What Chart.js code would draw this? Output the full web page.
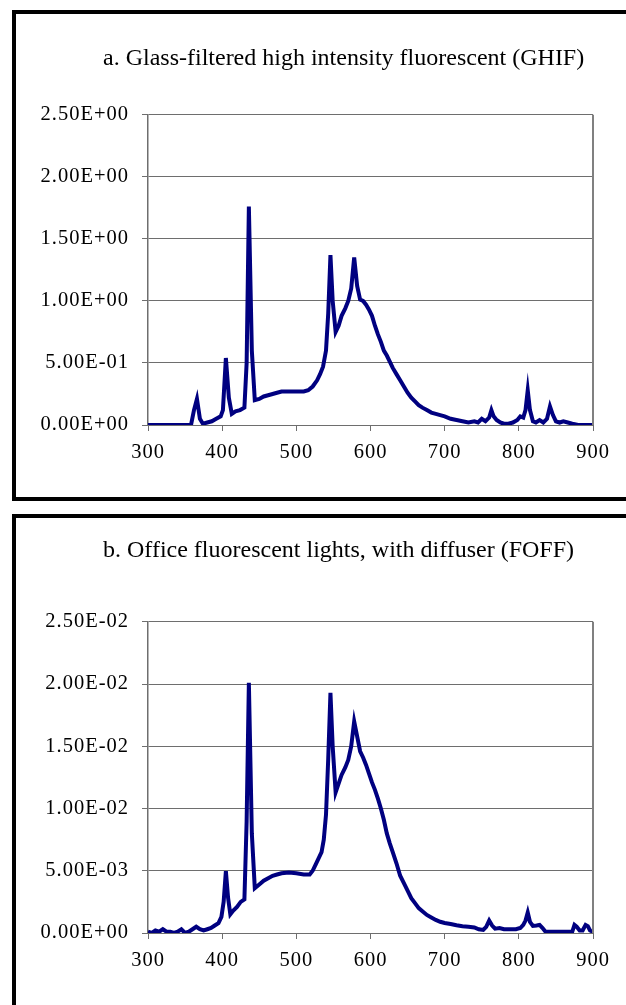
<!DOCTYPE html>
<html>
<head>
<meta charset="utf-8">
<script src="https://cdn.jsdelivr.net/npm/chart.js@4.4.1/dist/chart.umd.min.js"></script>
<style>
  html, body { margin: 0; padding: 0; background: #fff; width: 626px; height: 1005px; overflow: hidden; }
  .panel { position: absolute; left: 12px; width: 700px; border-left: 4px solid #000; border-top: 4px solid #000; }
  #pa { top: 10px; height: 483px; border-bottom: 4px solid #000; }
  #pb { top: 514px; height: 600px; }
  .box { position: absolute; left: 16px; width: 610px; }
  #boxA { top: 14px; height: 483px; }
  #boxB { top: 518px; height: 487px; }
</style>
</head>
<body>
<div class="panel" id="pa"></div>
<div class="panel" id="pb"></div>
<div class="box" id="boxA"><canvas id="chartA"></canvas></div>
<div class="box" id="boxB"><canvas id="chartB"></canvas></div>
<script>
// a. Glass-filtered high intensity fluorescent (GHIF)
const wavelengthsA = [300, 330, 358, 362, 366, 370, 374, 380, 386, 392, 398, 401, 405, 409, 413, 418, 424, 430, 433, 436,
  440, 444, 450, 456, 462, 468, 474, 480, 490, 500, 510, 516, 522, 528, 532, 536, 540, 543, 546, 549,
  553, 557, 561, 566, 570, 574, 578, 582, 586, 590, 594, 598, 602, 606, 610, 614, 618, 622, 626, 630,
  635, 640, 645, 650, 655, 660, 665, 670, 676, 682, 688, 694, 700, 708, 716, 724, 732, 740, 745, 750,
  755, 760, 763, 766, 770, 775, 780, 786, 792, 798, 802, 806, 809, 812, 815, 819, 823, 828, 833, 838,
  842, 846, 850, 855, 860, 866, 872, 880, 890, 900];
const ghif = [0, 0, 0, 0.12, 0.21, 0.05, 0.01, 0.02, 0.03, 0.05, 0.07, 0.12, 0.54, 0.22, 0.09, 0.11, 0.12, 0.14, 0.5, 1.76,
  0.6, 0.2, 0.21, 0.23, 0.24, 0.25, 0.26, 0.27, 0.27, 0.27, 0.27, 0.28, 0.31, 0.36, 0.41, 0.47, 0.6, 0.9, 1.37, 1.0,
  0.75, 0.8, 0.88, 0.94, 1.0, 1.1, 1.35, 1.12, 1.01, 1.0, 0.97, 0.93, 0.88, 0.8, 0.73, 0.67, 0.6, 0.56, 0.51, 0.46,
  0.41, 0.36, 0.31, 0.26, 0.22, 0.19, 0.16, 0.14, 0.12, 0.1, 0.09, 0.08, 0.07, 0.05, 0.04, 0.03, 0.02, 0.03, 0.02, 0.05,
  0.03, 0.06, 0.12, 0.07, 0.04, 0.02, 0.01, 0.01, 0.02, 0.04, 0.07, 0.06, 0.12, 0.28, 0.12, 0.03, 0.02, 0.04, 0.02, 0.05,
  0.15, 0.08, 0.03, 0.02, 0.03, 0.02, 0.01, 0, 0, 0];

// b. Office fluorescent lights, with diffuser (FOFF)
const wavelengthsB = [300, 305, 310, 315, 320, 325, 330, 335, 340, 345, 350, 355, 360, 365, 370, 375, 380, 385, 390, 395,
  399, 402, 405, 408, 411, 415, 420, 425, 430, 433, 436, 440, 444, 450, 456, 462, 468, 474, 480, 490,
  500, 510, 518, 522, 526, 530, 534, 537, 540, 543, 546, 549, 553, 557, 561, 566, 570, 574, 578, 582,
  586, 590, 594, 598, 602, 606, 610, 614, 618, 622, 626, 630, 635, 640, 645, 650, 655, 660, 665, 670,
  676, 682, 688, 694, 700, 708, 716, 724, 732, 740, 746, 752, 756, 760, 764, 768, 774, 780, 788, 796,
  802, 806, 809, 812, 815, 819, 824, 828, 832, 836, 842, 850, 858, 866, 872, 875, 878, 882, 886, 890,
  893, 896, 900];
const foff = [1.0e-4, 0, 2.0e-4, 1.0e-4, 3.0e-4, 1.0e-4, 1.0e-4, 0, 1.0e-4, 3.0e-4, 0, 1.0e-4, 3.0e-4, 5.0e-4, 3.0e-4, 2.0e-4, 3.0e-4, 4.0e-4, 6.0e-4, 8.0e-4,
  1.3e-3, 2.5e-3, 4.97e-3, 2.8e-3, 1.5e-3, 1.8e-3, 2.1e-3, 2.5e-3, 2.7e-3, 9.0e-3, 2.01e-2, 8.0e-3, 3.6e-3, 3.9e-3, 4.2e-3, 4.4e-3, 4.6e-3, 4.7e-3, 4.8e-3, 4.85e-3,
  4.8e-3, 4.7e-3, 4.7e-3, 5.0e-3, 5.5e-3, 6.0e-3, 6.5e-3, 7.5e-3, 9.5e-3, 1.4e-2, 1.93e-2, 1.5e-2, 1.13e-2, 1.2e-2, 1.27e-2, 1.33e-2, 1.39e-2, 1.5e-2, 1.7e-2, 1.58e-2,
  1.46e-2, 1.41e-2, 1.35e-2, 1.28e-2, 1.21e-2, 1.15e-2, 1.08e-2, 1.0e-2, 9.1e-3, 8.0e-3, 7.2e-3, 6.5e-3, 5.6e-3, 4.6e-3, 4.0e-3, 3.4e-3, 2.8e-3, 2.4e-3, 2.0e-3, 1.75e-3,
  1.45e-3, 1.25e-3, 1.05e-3, 9.0e-4, 8.0e-4, 7.2e-4, 6.2e-4, 5.5e-4, 5.0e-4, 4.5e-4, 3.0e-4, 2.5e-4, 5.0e-4, 1.0e-3, 6.0e-4, 3.5e-4, 4.0e-4, 3.0e-4, 3.0e-4, 3.0e-4,
  4.0e-4, 6.5e-4, 1.0e-3, 1.65e-3, 9.0e-4, 5.7e-4, 6.0e-4, 6.5e-4, 4.0e-4, 1.0e-4, 1.0e-4, 1.0e-4, 1.0e-4, 1.0e-4, 1.0e-4, 6.5e-4, 5.0e-4, 2.0e-4, 2.0e-4, 6.5e-4,
  5.5e-4, 2.0e-4, 1.0e-4];

const xTicks = [300, 400, 500, 600, 700, 800, 900];
const titleA = 'a. Glass-filtered high intensity fluorescent (GHIF)';
const titleB = 'b. Office fluorescent lights, with diffuser (FOFF)';

const serif = '"Liberation Serif", "Times New Roman", serif';
const gridGray = '#6e6e6e';
const tickSpacing = '1px';

// Excel style 2.50E+00 labels
function sci(v) {
  if (v === 0) return '0.00E+00';
  let e = Math.floor(Math.log10(Math.abs(v)));
  let m = v / Math.pow(10, e);
  if (Math.abs(m) >= 9.995) { m /= 10; e += 1; }
  const sign = e < 0 ? '-' : '+';
  return m.toFixed(2) + 'E' + sign + String(Math.abs(e)).padStart(2, '0');
}

// tick labels are a little spaced out, the title is not
const spacing = {
  id: 'spacing',
  beforeLayout(chart) { chart.ctx.letterSpacing = tickSpacing; },
  beforeDraw(chart) { chart.ctx.letterSpacing = tickSpacing; },
  afterLayout(chart) {
    const t = chart.titleBlock;
    if (!t) return;
    t.left = 87; // title starts left of the plot area
    if (!t._plainText) {
      const draw = t.draw.bind(t);
      t.draw = function () {
        chart.ctx.letterSpacing = '0px';
        draw();
        chart.ctx.letterSpacing = tickSpacing;
      };
      t._plainText = true;
    }
  }
};

// gray frame on the right side of the plot area
const frame = {
  id: 'frame',
  afterDraw(chart) {
    const { ctx, chartArea } = chart;
    ctx.save();
    ctx.strokeStyle = '#808080';
    ctx.lineWidth = 2;
    ctx.beginPath();
    ctx.moveTo(chartArea.right, chartArea.top);
    ctx.lineTo(chartArea.right, chartArea.bottom);
    ctx.stroke();
    ctx.restore();
  }
};

function makeChart(id, xs, ys, title, yMax, yStep, titlePad) {
  const points = xs.map((x, i) => ({ x: x, y: ys[i] }));
  return new Chart(document.getElementById(id), {
    type: 'line',
    data: {
      datasets: [{
        data: points,
        borderColor: '#000080',
        borderWidth: 4,
        pointRadius: 0,
        tension: 0,
        fill: false
      }]
    },
    options: {
      responsive: true,
      maintainAspectRatio: false,
      animation: false,
      layout: { padding: { left: 0, right: 33, top: 0, bottom: 0 } },
      plugins: {
        legend: { display: false },
        tooltip: { enabled: false },
        title: {
          display: true,
          text: title,
          align: 'start',
          color: '#000',
          font: { family: serif, size: 24, weight: 'normal', lineHeight: 1.2 },
          padding: titlePad
        }
      },
      scales: {
        x: {
          type: 'linear',
          min: 300,
          max: 900,
          afterBuildTicks: (axis) => { axis.ticks = xTicks.map(v => ({ value: v })); },
          afterFit: (axis) => { axis.height = 72; },
          grid: { drawOnChartArea: false, drawTicks: true, tickLength: 6, color: gridGray },
          border: { display: true, color: gridGray, width: 1 },
          ticks: { color: '#000', padding: 9, maxRotation: 0, font: { family: serif, size: 20.5 } }
        },
        y: {
          min: 0,
          max: yMax,
          afterFit: (axis) => { axis.width = 132; },
          grid: { color: gridGray, lineWidth: 1, drawTicks: true, tickLength: 6 },
          border: { display: true, color: gridGray, width: 1.5 },
          ticks: {
            stepSize: yStep,
            color: '#000',
            padding: 13,
            font: { family: serif, size: 20.5 },
            callback: (v) => sci(v)
          }
        }
      }
    },
    plugins: [spacing, frame]
  });
}

makeChart('chartA', wavelengthsA, ghif, titleA, 2.5, 0.5, { top: 30, bottom: 42 });
makeChart('chartB', wavelengthsB, foff, titleB, 0.025, 0.005, { top: 18, bottom: 57 });
</script>
</body>
</html>
